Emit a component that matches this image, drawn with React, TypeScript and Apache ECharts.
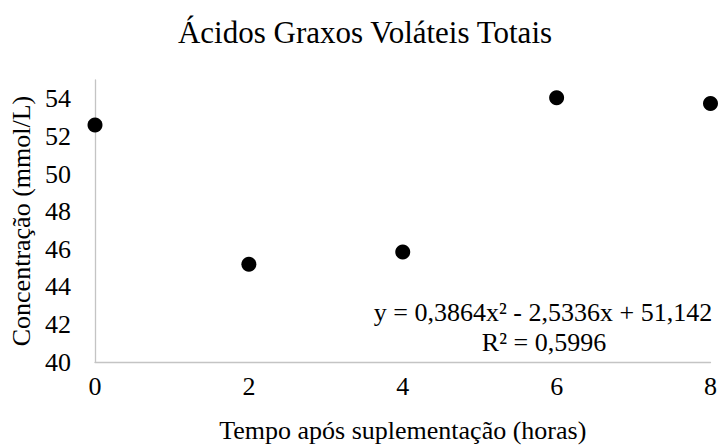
import React, { useEffect, useRef } from "react";
import * as echarts from "echarts";

const hours = [0, 2, 4, 6, 8];
const concentration = [52.6, 45.2, 45.85, 54.05, 53.75];
const titleText = "Ácidos Graxos Voláteis Totais";
const xName = "Tempo após suplementação (horas)";
const yName = "Concentração (mmol/L)";
const equationText = "y = 0,3864x² - 2,5336x + 51,142";
const r2Text = "R² = 0,5996";

const FONT = "Liberation Serif";

export default function App() {
  const ref = useRef<HTMLDivElement>(null);
  useEffect(() => {
    if (!ref.current) return;
    const chart = echarts.init(ref.current, undefined, { renderer: "svg" });
    chart.setOption({
      animation: false,
      backgroundColor: "#ffffff",
      textStyle: { fontFamily: FONT },
      title: {
        text: titleText,
        left: 360,
        top: 12,
        textAlign: "center",
        textStyle: { fontFamily: FONT, fontSize: 31, fontWeight: "normal", color: "#000" },
      },
      grid: { left: 95, right: 9, top: 80, bottom: 83 },
      xAxis: {
        type: "value",
        min: 0,
        max: 8,
        interval: 2,
        name: xName,
        nameLocation: "middle",
        nameGap: 55,
        nameTextStyle: { fontFamily: FONT, fontSize: 26, color: "#000" },
        axisLine: { show: true, lineStyle: { color: "#c4c4c4", width: 1.3 } },
        axisTick: { show: false },
        splitLine: { show: false },
        axisLabel: { fontFamily: FONT, fontSize: 26, color: "#000", margin: 11 },
      },
      yAxis: {
        type: "value",
        min: 40,
        max: 55,
        interval: 2,
        name: yName,
        nameLocation: "middle",
        nameGap: 58,
        nameTextStyle: { fontFamily: FONT, fontSize: 26, color: "#000" },
        axisLine: { show: true, lineStyle: { color: "#c4c4c4", width: 1.3 } },
        axisTick: { show: false },
        splitLine: { show: false },
        axisLabel: { fontFamily: FONT, fontSize: 26, color: "#000", margin: 24, showMaxLabel: false },
      },
      series: [
        {
          type: "scatter",
          data: hours.map((h, i) => [h, concentration[i]]),
          symbol: "circle",
          symbolSize: 15,
          itemStyle: { color: "#000", opacity: 1 },
          clip: false,
        },
      ],
      graphic: [
        {
          type: "text",
          x: 543,
          y: 299,
          style: {
            text: equationText,
            fontFamily: FONT,
            fontSize: 26,
            fill: "#000",
            textAlign: "center",
            textVerticalAlign: "top",
          },
        },
        {
          type: "text",
          x: 544,
          y: 329,
          style: {
            text: r2Text,
            fontFamily: FONT,
            fontSize: 26,
            fill: "#000",
            textAlign: "center",
            textVerticalAlign: "top",
          },
        },
      ],
    });
    return () => chart.dispose();
  }, []);
  return <div ref={ref} style={{ width: 720, height: 448, position: "absolute", left: 0, top: 0 }} />;
}
